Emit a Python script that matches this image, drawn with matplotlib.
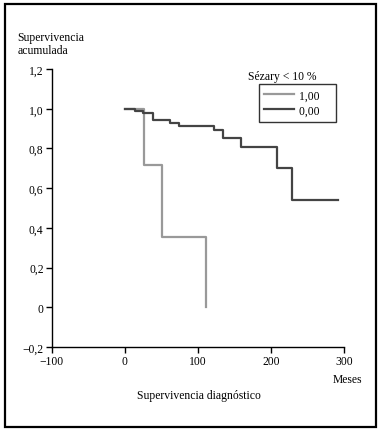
import matplotlib.pyplot as plt
from matplotlib.patches import Rectangle

# survival steps (months, cumulative survival)
t_sez1 = [0, 26, 26, 51, 51, 111, 111]
s_sez1 = [1.0, 1.0, 0.718, 0.718, 0.355, 0.355, 0.0]

t_sez0 = [0, 14, 25, 38, 62, 74, 122, 134, 159, 208, 229, 292]
s_sez0 = [1.0, 0.99, 0.98, 0.945, 0.93, 0.915, 0.895, 0.855, 0.805, 0.70, 0.54, 0.54]

yticks = [-0.2, 0, 0.2, 0.4, 0.6, 0.8, 1.0, 1.2]
ylabels = ["\u22120,2", "0", "0,2", "0,4", "0,6", "0,8", "1,0", "1,2"]
xticks = [-100, 0, 100, 200, 300]
xlabels = ["\u2212100", "0", "100", "200", "300"]

plt.rcParams['font.family'] = ['Liberation Serif', 'DejaVu Serif']
plt.rcParams['font.size'] = 8.4

fig = plt.figure(figsize=(3.82, 4.35), dpi=100)
ax = fig.add_axes([0.136, 0.2, 0.764, 0.639])

ax.plot(t_sez1, s_sez1, color="#999999", lw=1.6, label="1,00")
ax.step(t_sez0, s_sez0, where="post", color="#444444", lw=1.6, label="0,00")

ax.set_xlim(-100, 300)
ax.set_ylim(-0.2, 1.2)
ax.set_xticks(xticks)
ax.set_xticklabels(xlabels)
ax.set_yticks(yticks)
ax.set_yticklabels(ylabels)
ax.spines['top'].set_visible(False)
ax.spines['right'].set_visible(False)
for sp in ['left', 'bottom']:
    ax.spines[sp].set_linewidth(1.0)
ax.tick_params(direction='out', length=4, width=1.0, pad=2)

leg = ax.legend(loc='upper left', bbox_to_anchor=(0.709, 0.945), frameon=True,
                fancybox=False, edgecolor='black', handlelength=2.6,
                borderpad=0.45, labelspacing=0.25, handletextpad=0.4,
                borderaxespad=0)
leg.get_frame().set_linewidth(1.0)
# widen frame a little to the right, like the original box
leg._legend_box.sep = 0
for t in leg.get_texts():
    t.set_text(t.get_text() + "    ")

fig.text(0.649, 0.823, "S\u00e9zary < 10 %", ha='left', va='center')
fig.text(0.045, 0.897, "Supervivencia\nacumulada", ha='left', va='center', linespacing=1.1)
fig.text(0.948, 0.127, "Meses", ha='right', va='center')
fig.text(0.52, 0.09, "Supervivencia diagn\u00f3stico", ha='center', va='center')

fig.patches.append(Rectangle((0.013, 0.016), 0.972, 0.972, transform=fig.transFigure,
                             fill=False, edgecolor='black', lw=1.6))

fig.savefig("out.png", dpi=100, facecolor='white')
